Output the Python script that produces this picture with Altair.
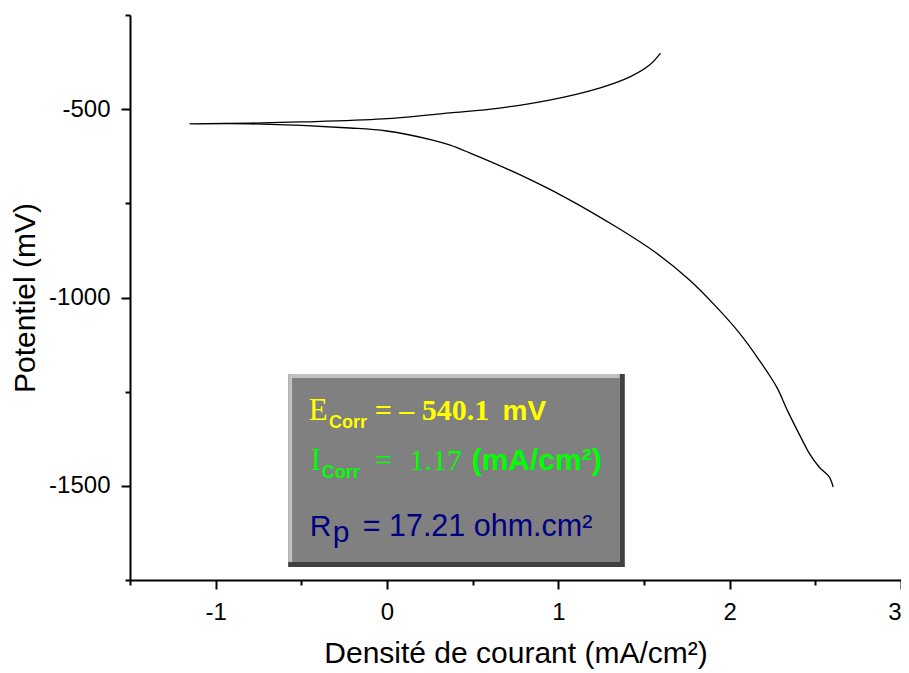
import altair as alt
import pandas as pd

# Polarisation curve (Tafel plot)
lower_x = [2.604, 2.581, 2.522, 2.464, 2.423, 2.336, 2.277, 2.172, 2.056, 1.922, 1.764,
           1.572, 1.339, 1.047, 0.756, 0.482, 0.365, 0.266, -0.002, -0.217, -0.800, -1.150]
lower_y = [-1503, -1476, -1450, -1413, -1378, -1299, -1240, -1166, -1094, -1025, -953,
           -882, -813, -736, -670, -616, -595, -582, -558, -550, -539, -539]
upper_x = [-0.800, -0.509, -0.025, 0.366, 0.657, 0.948, 1.240, 1.415, 1.532, 1.596]
upper_y = [-537, -534, -526, -510, -497, -476, -444, -415, -383, -351]

x_ticks = [-1.5, -1, -0.5, 0, 0.5, 1, 1.5, 2, 2.5, 3]
y_ticks = [-1750, -1500, -1250, -1000, -750, -500, -250]

xs = lower_x + upper_x
ys = lower_y + upper_y
curve = pd.DataFrame({"x": xs, "y": ys, "i": list(range(len(xs)))})

SANS = "Liberation Sans"
SERIF = "Liberation Serif"

xscale = alt.Scale(domain=[-1.5, 3], nice=False, zero=False)
yscale = alt.Scale(domain=[-1750, -250], nice=False, zero=False)

xaxis = alt.Axis(
    values=x_ticks,
    title="Densité de courant (mA/cm²)",
    labelExpr="datum.value % 1 ? '' : '' + datum.value",
    tickSize={"condition": {"test": "datum.value % 1 !== 0", "value": 5}, "value": 9},
    grid=False, labelPadding=11, titlePadding=14, labelFlush=True,
)
yaxis = alt.Axis(
    values=y_ticks,
    title="Potentiel (mV)",
    labelExpr="datum.value % 500 ? '' : '' + datum.value",
    tickSize={"condition": {"test": "datum.value % 500 !== 0", "value": 5}, "value": 9},
    grid=False, labelPadding=11, titlePadding=8,
)

line = alt.Chart(curve).mark_line(
    color="black", strokeWidth=1.3, interpolate="catmull-rom"
).encode(
    x=alt.X("x:Q", scale=xscale, axis=xaxis),
    y=alt.Y("y:Q", scale=yscale, axis=yaxis),
    order="i:Q",
)

one = pd.DataFrame({"a": [0]})

# Bevelled annotation box
bx0, bx1 = -0.577, 1.388
by0, by1 = -1715.5, -1203
dx, dy = 0.0233, 10.6


def rect(x0, x1, y0, y1, color):
    return alt.Chart(one).mark_rect(color=color).encode(
        x=alt.datum(x0), x2=alt.datum(x1), y=alt.datum(y0), y2=alt.datum(y1)
    )


box = (
    rect(bx0, bx1, by0, by1, "#404040")
    + rect(bx0, bx1 - 1.25 * dx, by0 + 1.25 * dy, by1, "#c0c0c0")
    + rect(bx0 + dx, bx1 - 1.25 * dx, by0 + 1.25 * dy, by1 - dy, "#808080")
)


def txt(s, x, y, size, color, font, weight="normal"):
    return alt.Chart(one).mark_text(
        text=s, align="left", baseline="alphabetic", fontSize=size,
        color=color, font=font, fontWeight=weight,
    ).encode(x=alt.datum(x), y=alt.datum(y))


YEL = "#ffff00"
GRN = "#00ff00"
NAV = "#000080"

texts = (
    txt("E", -0.456, -1325, 31, YEL, SERIF)
    + txt("Corr", -0.338, -1346, 18, YEL, SANS, "bold")
    + txt("= – 540.1", -0.072, -1325, 30, YEL, SERIF, "bold")
    + txt("mV", 0.674, -1325, 28, YEL, SANS, "bold")
    + txt("I", -0.445, -1458, 31, GRN, SERIF)
    + txt("Corr", -0.381, -1479, 18, GRN, SANS, "bold")
    + txt("=", -0.072, -1458, 30, GRN, SERIF)
    + txt("1.17", 0.132, -1458, 30, GRN, SERIF)
    + txt("(mA/cm²)", 0.494, -1458, 30, GRN, SANS, "bold")
    + txt("R", -0.451, -1633, 30, NAV, SANS)
    + txt("p", -0.317, -1649, 30, NAV, SANS)
    + txt("= 17.21 ohm.cm²", -0.142, -1633, 30.5, NAV, SANS)
)

chart = (line + box + texts).properties(
    width=771, height=565,
    autosize=alt.AutoSizeParams(type="none"),
    padding={"left": 122, "top": 7, "right": 0, "bottom": 93},
).configure_view(stroke=None).configure_axis(
    domainColor="black", domainWidth=2, tickColor="black", tickWidth=2,
    labelColor="black", labelFont=SANS, labelFontSize=24,
    titleColor="black", titleFont=SANS, titleFontSize=30, titleFontWeight="normal",
)

chart.save("out.html", embed_options={"renderer": "svg", "actions": False})
